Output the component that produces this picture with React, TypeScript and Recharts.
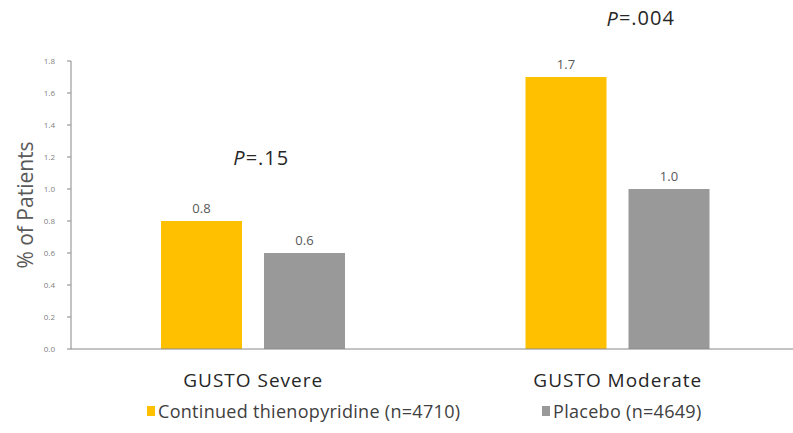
import React from 'react'
import {
  BarChart, Bar, XAxis, YAxis, LabelList, ReferenceDot, Legend,
} from 'recharts'

// Bleeding endpoints, % of patients per arm
const categories = ['GUSTO Severe', 'GUSTO Moderate']
const thienopyridine = [0.8, 1.7]
const placebo = [0.6, 1.0]
const yTicks = [0, 0.2, 0.4, 0.6, 0.8, 1.0, 1.2, 1.4, 1.6, 1.8]
const pValues = ['.15', '.004']
const pLevels = [1.2, 2.07]
const seriesNames = ['Continued thienopyridine (n=4710)', 'Placebo (n=4649)']

const YELLOW = '#FFC000'
const GREY = '#999999'
const FONT = '"Open Sans", "Noto Sans", sans-serif'

const data = categories.map((name, i) => ({
  name,
  thieno: thienopyridine[i],
  placebo: placebo[i],
}))

function YTitle({ viewBox }: any) {
  const cy = viewBox.y + viewBox.height / 2
  return (
    <text
      x={25} y={cy}
      transform={`rotate(-90 25 ${cy})`}
      textAnchor="middle"
      dominantBaseline="central"
      fontFamily={FONT}
      fontSize={21}
      fill="#595959"
    >
      % of Patients
    </text>
  )
}

function CategoryTick({ x, y, payload }: any) {
  return (
    <text
      x={x} y={y + 30}
      textAnchor="middle"
      fontFamily={FONT}
      fontSize={19}
      letterSpacing={1}
      fill="#262626"
    >
      {payload.value}
    </text>
  )
}

function PLabel({ viewBox, value, dx = 0 }: any) {
  return (
    <text
      x={viewBox.x + dx} y={viewBox.y}
      textAnchor="middle"
      dominantBaseline="central"
      fontFamily={FONT}
      fontSize={20}
      letterSpacing={1}
      fill="#262626"
    >
      <tspan fontStyle="italic">P</tspan>={value}
    </text>
  )
}

function LegendBox() {
  const item = (color: string, label: string, left: number) => (
    <div style={{ position: 'absolute', left, top: 0, display: 'flex', alignItems: 'center', height: 24 }}>
      <span style={{ width: 8, height: 10, background: color, marginRight: 3 }} />
      <span style={{ fontFamily: FONT, fontSize: 18, letterSpacing: 0.3, color: '#404040' }}>{label}</span>
    </div>
  )
  return (
    <div style={{ position: 'relative', height: 24 }}>
      {item(YELLOW, seriesNames[0], 147)}
      {item(GREY, seriesNames[1], 542)}
    </div>
  )
}

export default function App() {
  return (
    <div style={{ position: 'absolute', left: 0, top: 0, width: 793, height: 433, overflow: 'hidden', background: '#fff' }}>
      <BarChart
        width={800}
        height={433}
        data={data}
        margin={{ top: 61, right: 0, bottom: 15, left: 0 }}
        barSize={81}
        barGap={22}
      >
        <YAxis
          width={71}
          domain={[0, 1.8]}
          ticks={yTicks}
          tickFormatter={(v: number) => v.toFixed(1)}
          tick={{ fontSize: 8, fill: '#7f7f7f', fontFamily: FONT }}
          tickSize={4}
          tickMargin={12}
          axisLine={{ stroke: '#888888' }}
          tickLine={{ stroke: '#888888' }}
          label={<YTitle />}
        />
        <XAxis
          dataKey="name"
          height={45}
          tick={<CategoryTick />}
          tickLine={false}
          axisLine={{ stroke: '#888888' }}
        />
        {/* divider tick between the two categories */}
        <XAxis
          xAxisId="split"
          type="number"
          domain={[0, 2]}
          ticks={[1]}
          tick={false}
          tickSize={6}
          height={0}
          axisLine={false}
          tickLine={{ stroke: '#888888' }}
        />
        <Legend verticalAlign="bottom" content={<LegendBox />} wrapperStyle={{ left: 0, width: 800, bottom: 10 }} />
        <Bar dataKey="thieno" fill={YELLOW} isAnimationActive={false}>
          <LabelList dataKey="thieno" position="top" offset={8}
            formatter={(v: number) => v.toFixed(1)}
            style={{ fontSize: 13, fill: '#595959', fontFamily: FONT }} />
        </Bar>
        <Bar dataKey="placebo" fill={GREY} isAnimationActive={false}>
          <LabelList dataKey="placebo" position="top" offset={8}
            formatter={(v: number) => v.toFixed(1)}
            style={{ fontSize: 13, fill: '#595959', fontFamily: FONT }} />
        </Bar>
        <ReferenceDot x={categories[0]} y={pLevels[0]} r={0} ifOverflow="visible"
          label={<PLabel value={pValues[0]} dx={8} />} />
        <ReferenceDot x={categories[1]} y={pLevels[1]} r={0} ifOverflow="visible"
          label={<PLabel value={pValues[1]} dx={23} />} />
      </BarChart>
    </div>
  )
}
